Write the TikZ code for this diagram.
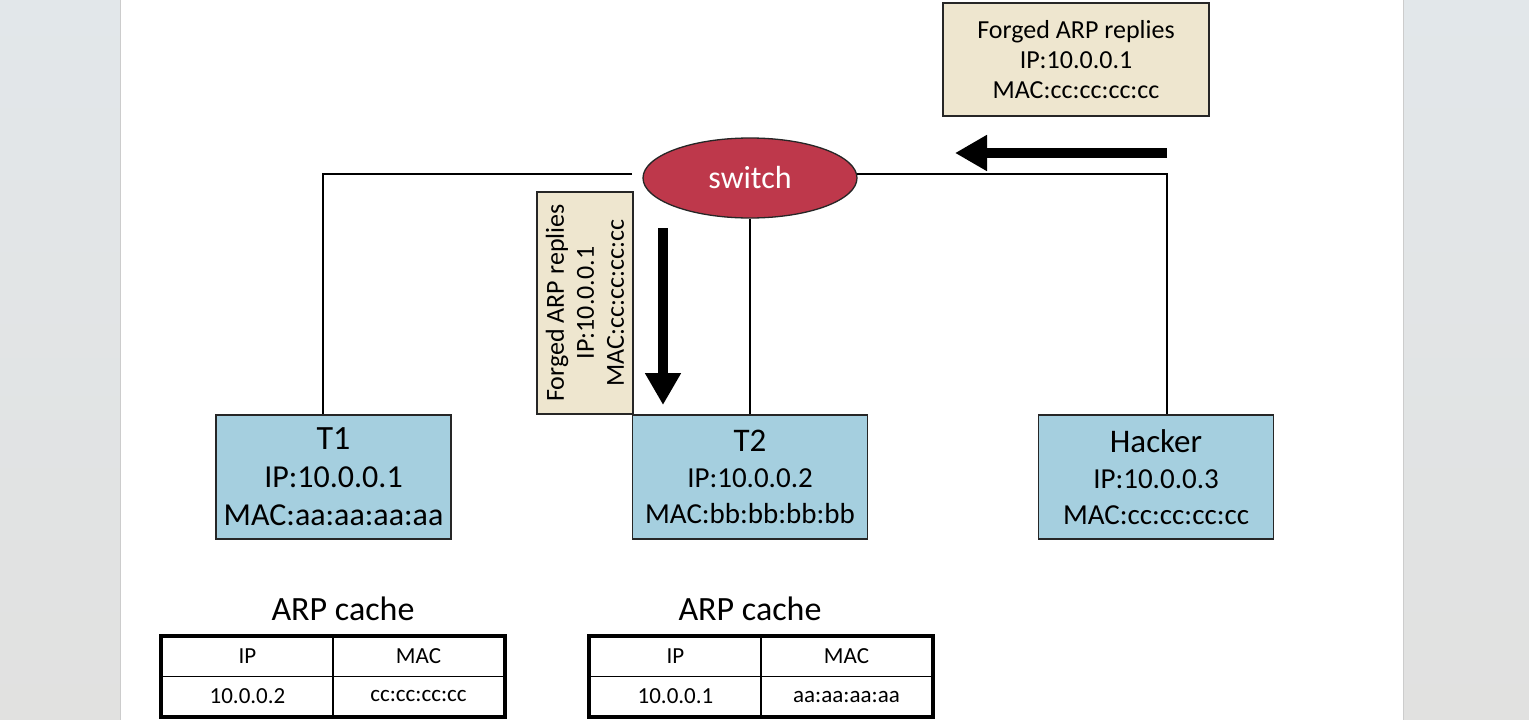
\documentclass[tikz,border=0pt]{standalone}
\usepackage{fontspec}
\setmainfont{Carlito}
\usetikzlibrary{shapes.geometric,arrows.meta}
\definecolor{switchred}{HTML}{BE384B}
\definecolor{hostblue}{HTML}{A5CFDF}
\definecolor{forgebeige}{HTML}{EEE6CF}
\definecolor{sidegrayA}{HTML}{E2E7EA}
\definecolor{sidegrayB}{HTML}{E1E1E0}
\tikzset{
  hostbox/.style={draw=black!85, line width=1.5pt, fill=hostblue, minimum width=235pt, minimum height=124pt, inner sep=0pt, align=center},
  forgebox/.style={draw=black!85, line width=1.3pt, fill=forgebeige, inner sep=0pt, align=center, font=\fontsize{26}{30}\selectfont},
  link/.style={line width=1.3pt, black},
  bigarrow/.style={line width=10pt, -{Triangle[length=32pt,width=34pt]}},
  cell/.style={draw=black, line width=1.3pt, minimum width=171pt, minimum height=40pt, inner sep=0pt, font=\fontsize{23}{26}\selectfont},
  outer/.style={draw=black, line width=4pt},
  title/.style={font=\fontsize{34}{38}\selectfont, inner sep=0pt}
}
\begin{document}
\begin{tikzpicture}[x=1pt,y=-1pt]
\useasboundingbox (0,0) rectangle (1529,720);
% page background
\shade[top color=sidegrayA, bottom color=sidegrayB] (0,0) rectangle (120,720);
\shade[top color=sidegrayA, bottom color=sidegrayB] (1403,0) rectangle (1529,720);
\fill[white] (120,0) rectangle (1403,720);
\draw[black!20, line width=1pt] (120,0) -- (120,720);
\draw[black!20, line width=1pt] (1403,0) -- (1403,720);

% switch
\node[ellipse, draw=black!85, line width=1.3pt, fill=switchred, minimum width=214pt, minimum height=80pt, inner sep=0pt, text=white, font=\fontsize{32}{36}\selectfont] (sw) at (750,178) {switch};

% hosts
\node[hostbox, font=\fontsize{32}{38}\selectfont] (t1) at (333.5,477) {{\fontsize{34}{38}\selectfont T1}\\IP:10.0.0.1\\MAC:aa:aa:aa:aa};
\node[hostbox, font=\fontsize{29}{36}\selectfont] (t2) at (750,477) {{\fontsize{33}{36}\selectfont T2}\\IP:10.0.0.2\\MAC:bb:bb:bb:bb};
\node[hostbox, font=\fontsize{29}{36}\selectfont] (hk) at (1156,477) {{\fontsize{33}{36}\selectfont Hacker}\\IP:10.0.0.3\\MAC:cc:cc:cc:cc};

% links
\coordinate (lend) at (632,174);
\coordinate (lcorner) at (323,174);
\coordinate (rstart) at (857,174);
\coordinate (rcorner) at (1167,174);
\draw[link] (lend) -- (lcorner) -- (lcorner |- t1.north);
\draw[link] (sw.south) -- (t2.north);
\draw[link] (rstart) -- (rcorner) -- (rcorner |- hk.north);

% forged replies
\node[forgebox, minimum width=266pt, minimum height=113pt] (fr1) at (1076,59.5) {Forged ARP replies\\IP:10.0.0.1\\MAC:cc:cc:cc:cc};
\node[forgebox, minimum width=222pt, minimum height=96pt, rotate=90] (fr2) at (585,303) {Forged ARP replies\\IP:10.0.0.1\\MAC:cc:cc:cc:cc};

\coordinate (a1s) at (1167,153);
\coordinate (a1e) at (955,153);
\draw[bigarrow] (a1s) -- (a1e);
\coordinate (a2s) at (663,228);
\coordinate (a2e) at (663,405);
\draw[bigarrow] (a2s) -- (a2e);

% ARP caches
\node[title] (c1t) at (343,609) {ARP cache};
\node[title] (c2t) at (750,609) {ARP cache};

\node[cell] (c1a) at (247.5,656.5) {IP};
\node[cell] (c1b) at (418.5,656.5) {MAC};
\node[cell] (c1c) at (247.5,696.5) {10.0.0.2};
\node[cell] (c1d) at (418.5,696.5) {cc:cc:cc:cc};
\draw[outer] (c1a.north west) rectangle (c1d.south east);

\node[cell] (c2a) at (675.5,656.5) {IP};
\node[cell] (c2b) at (846.5,656.5) {MAC};
\node[cell] (c2c) at (675.5,696.5) {10.0.0.1};
\node[cell] (c2d) at (846.5,696.5) {aa:aa:aa:aa};
\draw[outer] (c2a.north west) rectangle (c2d.south east);
\end{tikzpicture}
\end{document}
